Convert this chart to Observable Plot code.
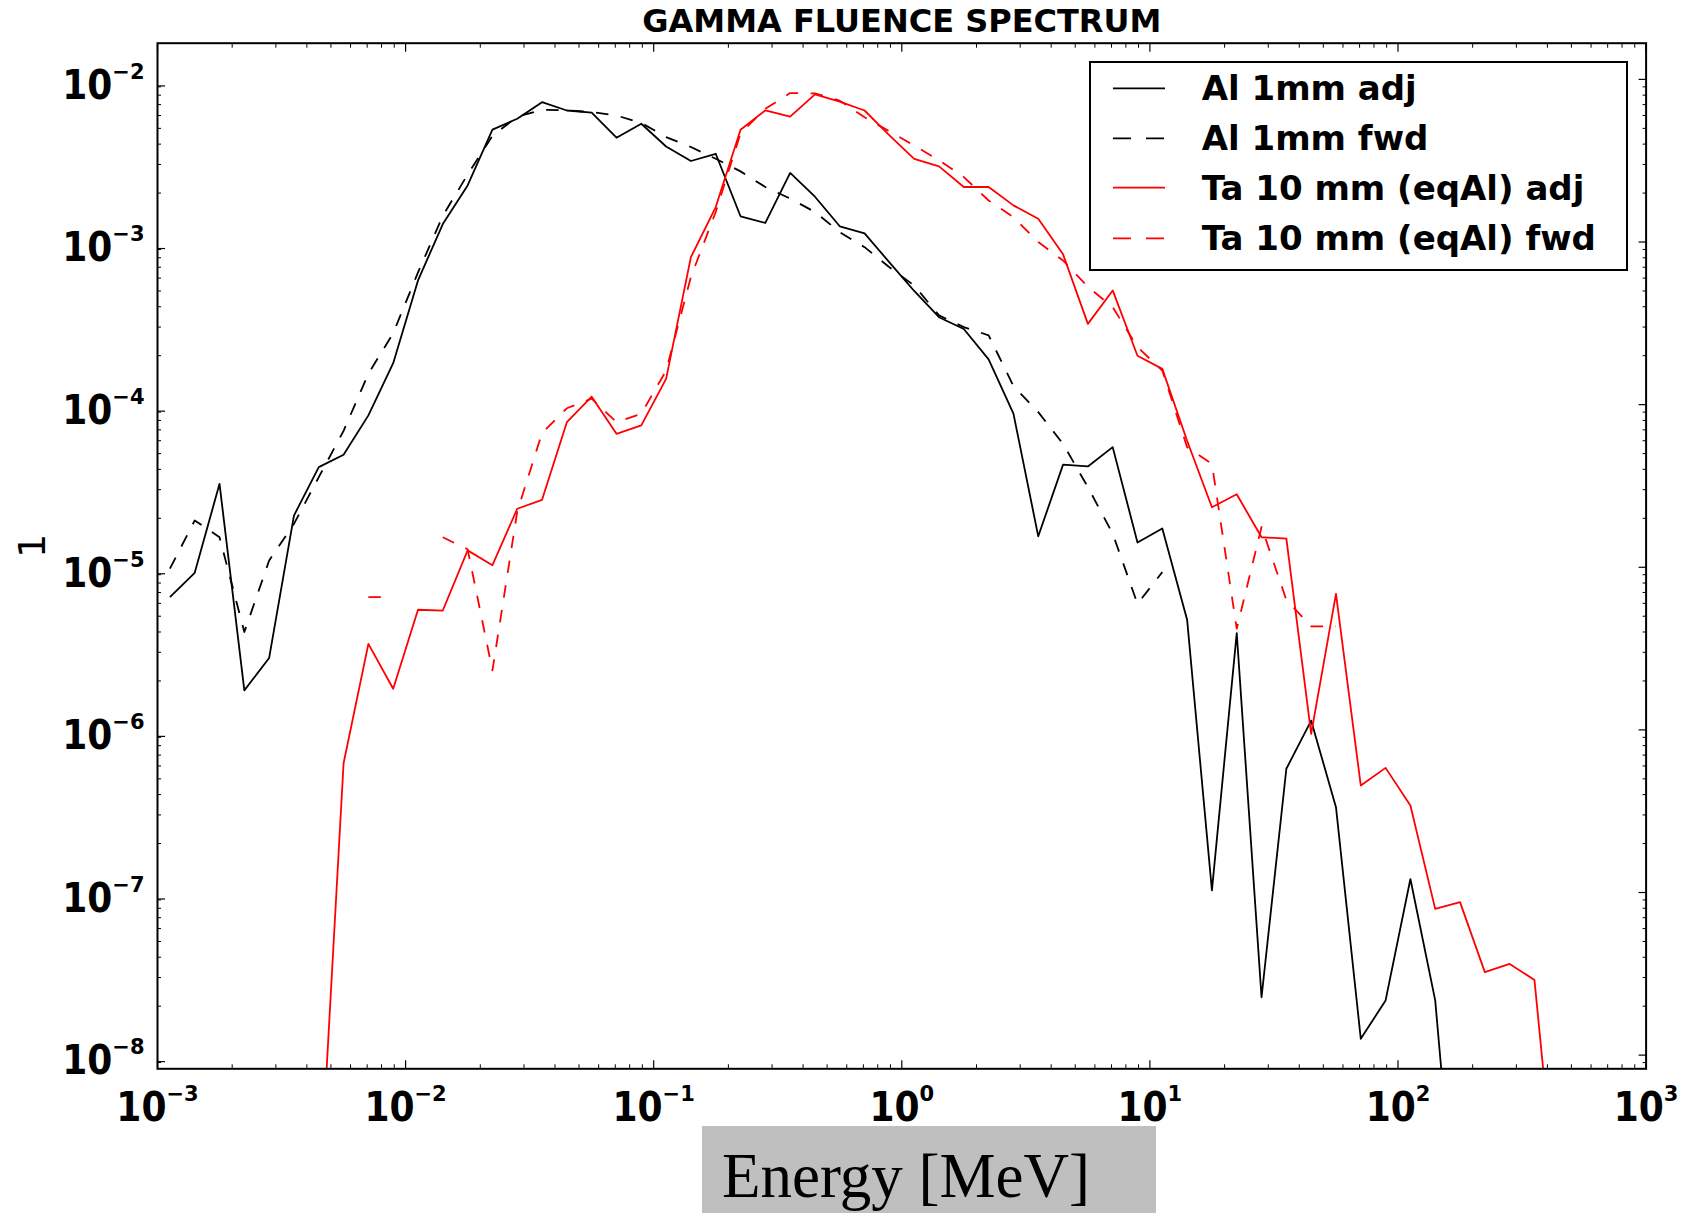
<!DOCTYPE html>
<html><head><meta charset="utf-8">
<script src="https://cdn.jsdelivr.net/npm/d3@7"></script>
<script src="https://cdn.jsdelivr.net/npm/@observablehq/plot@0.6"></script>
<style>
html,body{margin:0;padding:0;background:#fff;}
#wrap{position:relative;width:1694px;height:1213px;overflow:hidden;}
#chart svg{display:block;}
#legend{position:absolute;left:1089px;top:61px;width:539px;height:210px;border:2px solid #000;box-sizing:border-box;background:#fff;}
#legend svg{display:block;}
#xcap{position:relative;margin-top:-14px;margin-left:702px;width:454px;height:87px;background:#bfbfbf;font-family:'Liberation Serif','Times New Roman',serif;font-size:63px;line-height:101px;padding-left:20px;box-sizing:border-box;white-space:nowrap;overflow:hidden;color:#000;}
</style></head>
<body><div id="wrap"><div id="chart"></div><div id="xcap">Energy [MeV]</div><div id="legend"></div></div>
<script>
// Bin centres (MeV)
const energy = [0.001122, 0.0014125, 0.0017783, 0.0022387, 0.0028184, 0.0035481, 0.0044668, 0.0056234, 0.0070795, 0.0089125,
  0.01122, 0.014125, 0.017783, 0.022387, 0.028184, 0.035481, 0.044668, 0.056234, 0.070795, 0.089125,
  0.1122, 0.14125, 0.17783, 0.22387, 0.28184, 0.35481, 0.44668, 0.56234, 0.70795, 0.89125,
  1.122, 1.4125, 1.7783, 2.2387, 2.8184, 3.5481, 4.4668, 5.6234, 7.0795, 8.9125,
  11.22, 14.125, 17.783, 22.387, 28.184, 35.481, 44.668, 56.234, 70.795, 89.125,
  112.2, 141.25, 177.83, 223.87, 281.84, 354.81, 446.68];

const alAdj = [6.55e-6, 9.25e-6, 3.26e-5, 1.75e-6, 2.77e-6, 2.08e-5, 4.13e-5, 4.92e-5, 8.59e-5, 1.80e-4,
  5.81e-4, 1.29e-3, 2.23e-3, 4.91e-3, 5.73e-3, 7.25e-3, 6.44e-3, 6.24e-3, 4.38e-3, 5.34e-3,
  3.87e-3, 3.15e-3, 3.49e-3, 1.44e-3, 1.31e-3, 2.66e-3, 1.90e-3, 1.25e-3, 1.13e-3, 7.5e-4,
  5.0e-4, 3.45e-4, 2.92e-4, 1.9e-4, 8.8e-5, 1.55e-5, 4.28e-5, 4.17e-5, 5.48e-5, 1.42e-5,
  1.73e-5, 4.76e-6, 1.03e-7, 3.94e-6, 2.27e-8, 5.77e-7, 1.14e-6, 3.35e-7, 1.26e-8, 2.17e-8,
  1.21e-7, 2.17e-8, 4e-10, null, null, null, null];

const alFwd = [9.8e-6, 1.94e-5, 1.53e-5, 4.0e-6, 1.1e-5, 1.85e-5, 3.58e-5, 6.9e-5, 1.55e-4, 2.75e-4,
  6.5e-4, 1.45e-3, 2.6e-3, 4.5e-3, 5.9e-3, 6.5e-3, 6.45e-3, 6.3e-3, 6.0e-3, 5.4e-3,
  4.42e-3, 3.84e-3, 3.25e-3, 2.72e-3, 2.18e-3, 1.85e-3, 1.53e-3, 1.15e-3, 9.3e-4, 7.0e-4,
  5.4e-4, 3.54e-4, 3.0e-4, 2.67e-4, 1.3e-4, 9.0e-5, 5.74e-5, 3.11e-5, 1.61e-5, 5.96e-6,
  9.33e-6, null, null, null, null, null, null, null, null, null,
  null, null, null, null, null, null, null];

const taAdj = [null, null, null, null, null, null, 1.1e-9, 6.24e-7, 3.38e-6, 1.79e-6,
  5.48e-6, 5.42e-6, 1.27e-5, 1.03e-5, 2.29e-5, 2.60e-5, 7.80e-5, 1.12e-4, 6.62e-5, 7.45e-5,
  1.44e-4, 8.07e-4, 1.64e-3, 4.9e-3, 6.45e-3, 5.91e-3, 8.1e-3, 7.3e-3, 6.44e-3, 4.53e-3,
  3.25e-3, 2.92e-3, 2.18e-3, 2.18e-3, 1.68e-3, 1.39e-3, 8.4e-4, 3.14e-4, 5.04e-4, 2.0e-4,
  1.66e-4, 6.0e-5, 2.34e-5, 2.81e-5, 1.53e-5, 1.50e-5, 9.46e-7, 6.87e-6, 4.55e-7, 5.84e-7,
  3.43e-7, 7.93e-8, 8.73e-8, 3.24e-8, 3.64e-8, 2.9e-8, 8e-10];

const taFwd = [null, null, null, null, null, null, null, null, 6.55e-6, 6.55e-6,
  null, 1.53e-5, 1.29e-5, 2.32e-6, 2.2e-5, 6.7e-5, 9.5e-5, 1.09e-4, 7.8e-5, 8.8e-5,
  1.62e-4, 6.1e-4, 1.53e-3, 4.66e-3, 6.6e-3, 8.24e-3, 8.2e-3, 7.4e-3, 5.86e-3, 4.79e-3,
  3.92e-3, 3.18e-3, 2.51e-3, 1.80e-3, 1.42e-3, 1.0e-3, 7.7e-4, 5.3e-4, 3.98e-4, 2.26e-4,
  1.62e-4, 5.48e-5, 4.32e-5, 4.19e-6, 1.77e-5, 6.3e-6, 4.33e-6, 4.33e-6, null, null,
  null, null, null, null, null, null, null];

const seriesNames = ["Al 1mm adj", "Al 1mm fwd", "Ta 10 mm (eqAl) adj", "Ta 10 mm (eqAl) fwd"];
const seriesValues = [alAdj, alFwd, taAdj, taFwd];
const seriesColors = ["#000000", "#000000", "#ff0000", "#ff0000"];
const seriesDash = [null, "12.5,12.5", null, "12.5,12.5"];
const legendDash = [null, "18,15", null, "18,15"];

const xMajor = [1e-3, 1e-2, 1e-1, 1e0, 1e1, 1e2, 1e3];
const yMajor = [1e-8, 1e-7, 1e-6, 1e-5, 1e-4, 1e-3, 1e-2];
const titleText = "GAMMA FLUENCE SPECTRUM";
const yLabel = "1";

const xMinor = [];
for (let e = -3; e < 3; e++) for (let m = 2; m <= 9; m++) xMinor.push(m * Math.pow(10, e));
const yDomain = [8.24e-9, 0.0167];
const yMinor = [];
for (let e = -9; e < -1; e++) for (let m = 2; m <= 9; m++) {
  const v = m * Math.pow(10, e);
  if (v >= yDomain[0] && v <= yDomain[1]) yMinor.push(v);
}

const rows = vals => energy.map((e, i) => ({e, v: vals[i]}));
const fmt = d => "10^" + Math.round(Math.log10(d));
const empty = () => "";
const tickFont = {fontFamily: "'DejaVu Sans Condensed','DejaVu Sans',sans-serif", fontWeight: "bold", fontSize: 40};

const lineMarks = seriesValues.map((vals, i) => Plot.line(rows(vals), {
  x: "e", y: "v", stroke: seriesColors[i], strokeWidth: 1.8,
  strokeDasharray: seriesDash[i] ?? undefined,
  strokeLinecap: "butt", strokeLinejoin: "round", clip: true
}));

const chart = Plot.plot({
  width: 1694, height: 1140,
  marginLeft: 157, marginRight: 48.4, marginTop: 42.7, marginBottom: 71.7,
  x: {type: "log", domain: [1e-3, 1e3]},
  y: {type: "log", domain: yDomain},
  marks: [
    ...lineMarks,
    Plot.frame({stroke: "black", strokeWidth: 2}),
    Plot.axisY(yMajor, {anchor: "left", tickSize: -8, tickPadding: 21, tickFormat: fmt, label: null, dy: 6.5, strokeWidth: 1.2, ...tickFont}),
    Plot.axisY(yMinor, {anchor: "left", tickSize: -4, tickFormat: empty, label: null, strokeWidth: 1}),
    Plot.axisY(yMajor, {anchor: "right", tickSize: -8, tickFormat: empty, label: null, strokeWidth: 1.2}),
    Plot.axisY(yMinor, {anchor: "right", tickSize: -4, tickFormat: empty, label: null, strokeWidth: 1}),
    Plot.axisX(xMajor, {anchor: "bottom", tickSize: -8, tickPadding: 31.3, tickFormat: fmt, label: null, strokeWidth: 1.2, ...tickFont}),
    Plot.axisX(xMinor, {anchor: "bottom", tickSize: -4, tickFormat: empty, label: null, strokeWidth: 1}),
    Plot.axisX(xMajor, {anchor: "top", tickSize: -8, tickFormat: empty, label: null, strokeWidth: 1.2}),
    Plot.axisX(xMinor, {anchor: "top", tickSize: -4, tickFormat: empty, label: null, strokeWidth: 1}),
    Plot.text([titleText], {frameAnchor: "top", lineAnchor: "bottom", dy: -11, fontSize: 32, fontWeight: "bold", fontFamily: "'DejaVu Sans',sans-serif", fill: "black"}),
    Plot.text([yLabel], {frameAnchor: "left", rotate: -90, lineAnchor: "bottom", dx: -112.4, dy: 2, fontSize: 38, fontFamily: "'DejaVu Sans',sans-serif", fill: "black"})
  ]
});
document.getElementById("chart").appendChild(chart);

// superscript exponents in tick labels
const svgNS = "http://www.w3.org/2000/svg";
d3.select(chart).selectAll("text").each(function () {
  const m = /^10\^(-?\d+)$/.exec(this.textContent);
  if (!m) return;
  this.textContent = "";
  const base = document.createElementNS(svgNS, "tspan");
  base.textContent = "10";
  base.setAttribute("style", "font-stretch:condensed");
  const sup = document.createElementNS(svgNS, "tspan");
  sup.textContent = m[1].replace("-", "\u2212");
  sup.setAttribute("font-size", "21");
  sup.setAttribute("dy", "-20");
  sup.setAttribute("font-family", "'DejaVu Sans',sans-serif");
  this.appendChild(base);
  this.appendChild(sup);
});

// legend
const lg = d3.select("#legend").append("svg").attr("width", 535).attr("height", 206);
const rowY = [25.3, 75.3, 124.7, 175.3];
seriesNames.forEach((name, i) => {
  lg.append("line").attr("x1", 22).attr("x2", 74).attr("y1", rowY[i]).attr("y2", rowY[i])
    .attr("stroke", seriesColors[i]).attr("stroke-width", 1.8)
    .attr("stroke-dasharray", legendDash[i]);
  lg.append("text").attr("x", 110.7).attr("y", rowY[i] + 12)
    .attr("font-family", "'DejaVu Sans',sans-serif").attr("font-weight", "bold").attr("font-size", 34)
    .attr("fill", "#000").text(name);
});
</script></body></html>
